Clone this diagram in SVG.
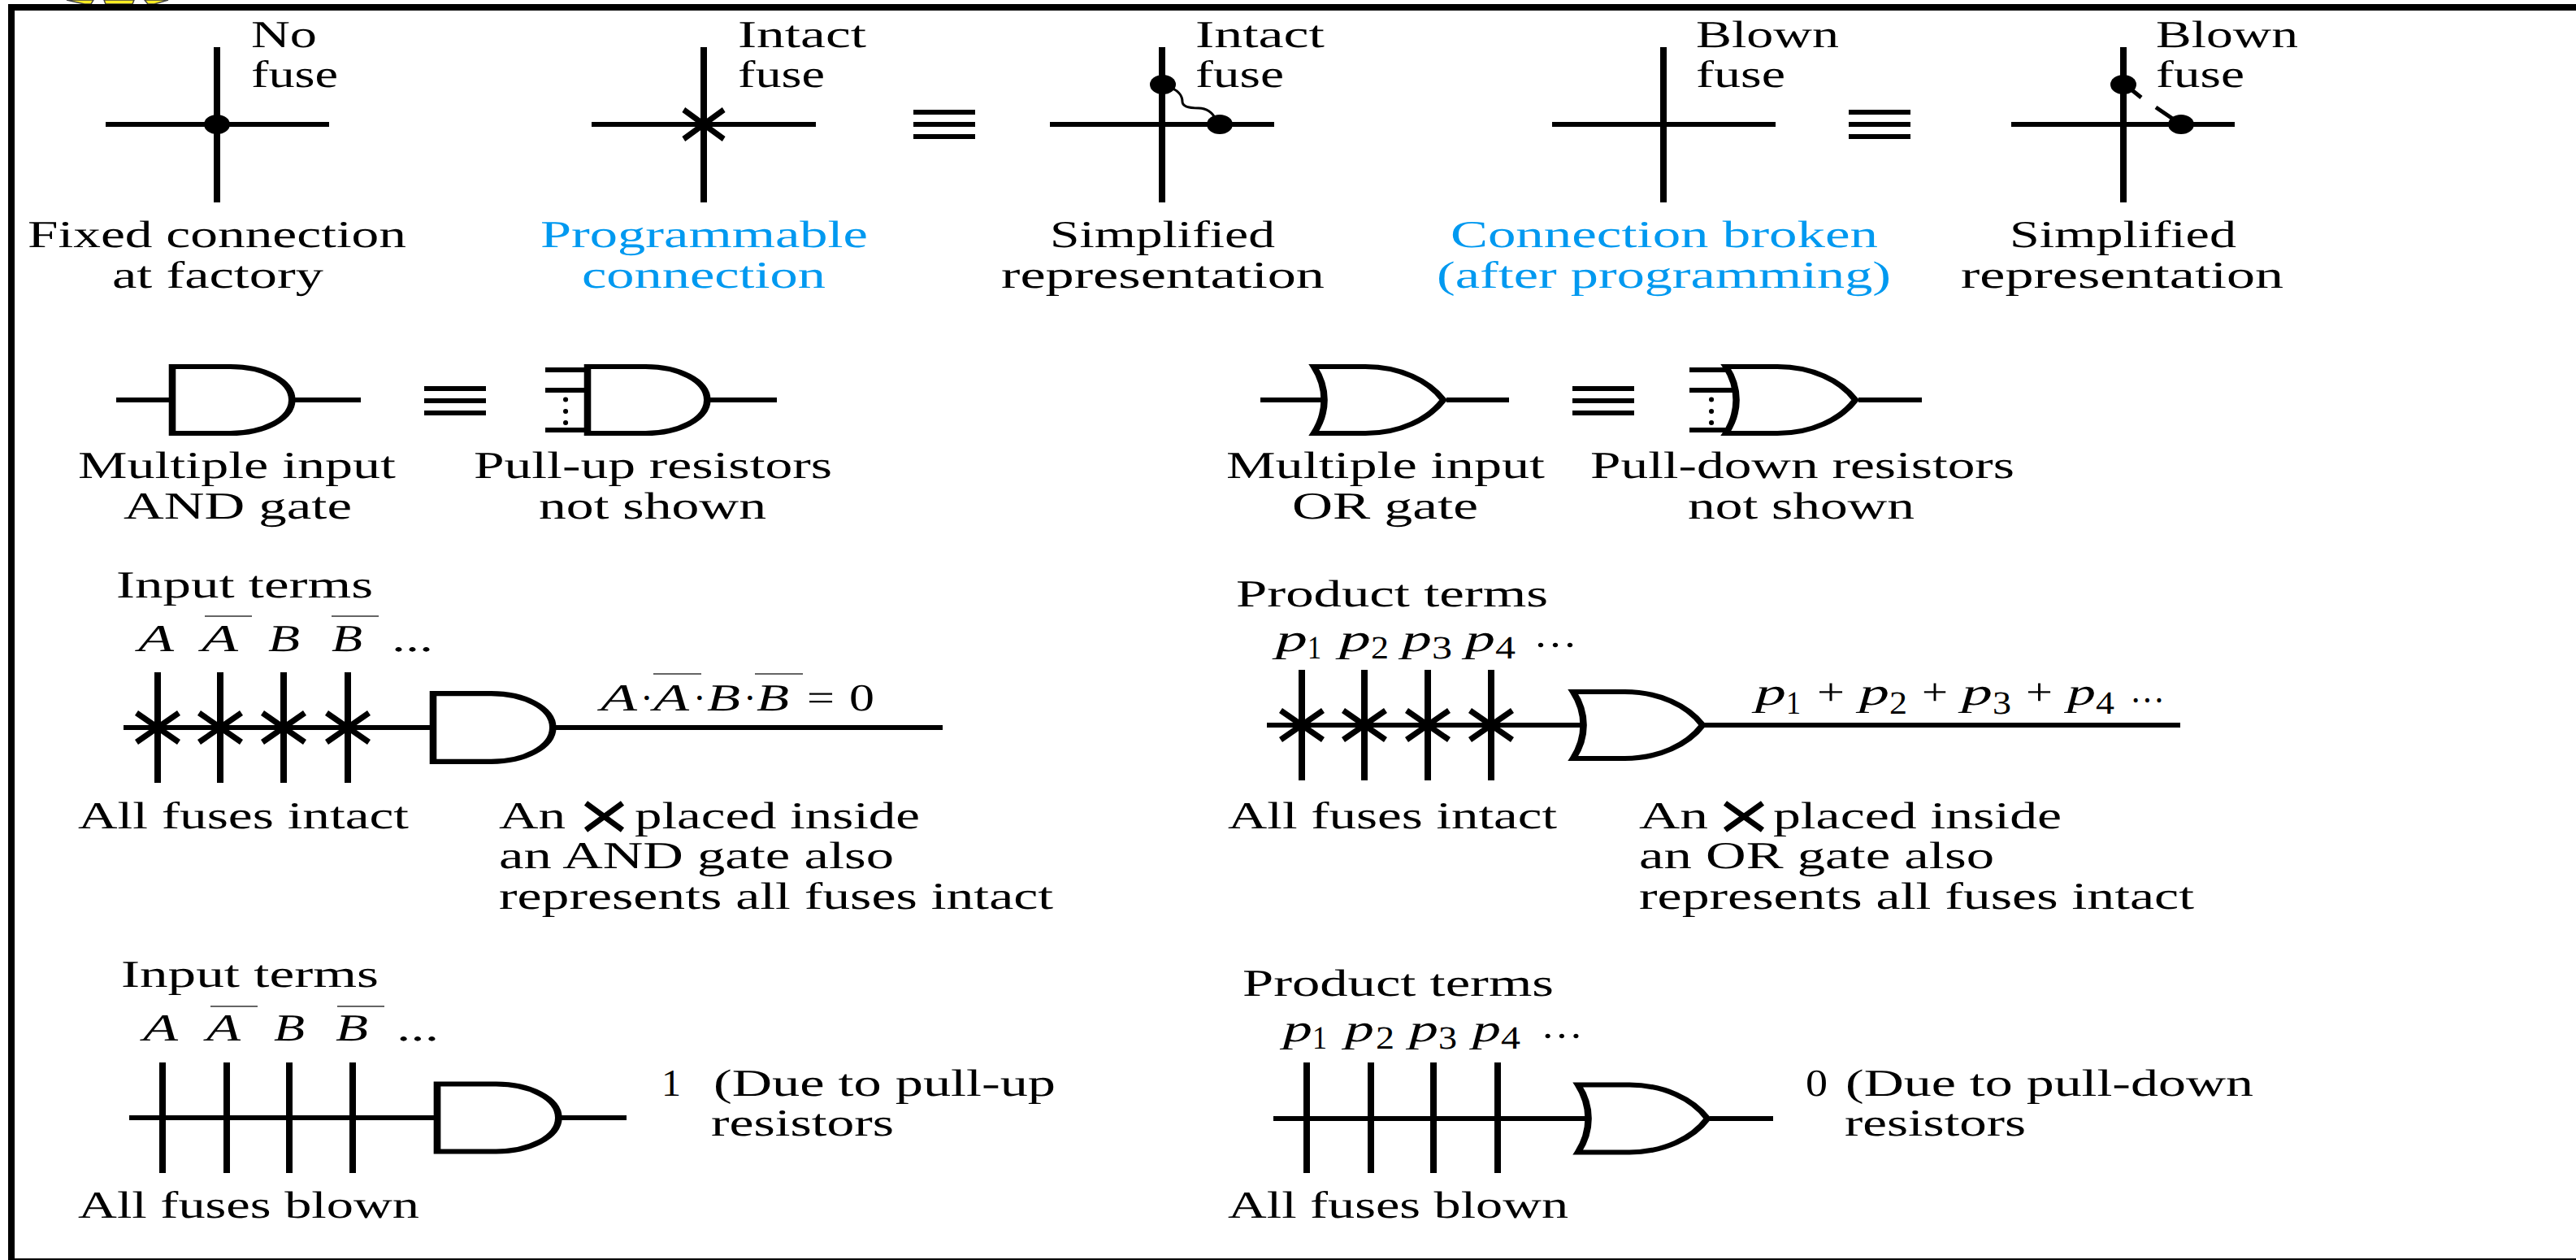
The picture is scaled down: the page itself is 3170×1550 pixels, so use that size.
<svg xmlns="http://www.w3.org/2000/svg" width="3170" height="1550" viewBox="0 0 3170 1550" font-family="'Liberation Serif','Times New Roman',serif" text-rendering="geometricPrecision">
<style>
text{font-family:"Liberation Serif","Times New Roman",serif;font-size:47px;fill:#000}
.i{font-style:italic}
.s{font-size:40px}
.b{fill:#0099f0}
.h{stroke:#000;stroke-width:6;fill:none}
.v{stroke:#000;stroke-width:8;fill:none}
.x{stroke:#000;stroke-width:7;fill:none}
.o{stroke:#333;stroke-width:1.6;fill:none}
.g{stroke:#000;stroke-width:6;fill:#fff}
</style>
<defs>
<path id="and" d="M0,-41H50C78,-41 103,-24 103,0C103,24 78,41 50,41H0Z"/>
<path id="or" d="M-10,-41H35C65,-41 90,-24 103,0C90,24 65,41 35,41H-10C2,15 2,-15 -10,-41Z"/>
<g id="fx"><path d="M-26,-18L26,18M-26,18L26,-18"/></g>
<g id="eq"><path d="M0,-15H76M0,0H76M0,15H76"/></g>
</defs>
<rect width="3170" height="1550" fill="#fff"/>
<g id="frame">
<path d="M82,0L104,5H112L115,0ZM128,0L130,5H163L165,0ZM178,0L182,5H190L207,0Z" fill="#ffee22" stroke="#444" stroke-width="1.5"/>
<rect x="10" y="5" width="3160" height="8"/>
<rect x="10" y="5" width="8" height="1545"/>
<rect x="10" y="1548" width="3160" height="2"/>
</g>
<g id="connectors">
<g id="wires-fuses">
<path class="v" d="M267,58V249M866,58V249M1430,58V249M2047,58V249M2613,58V249"/>
<path class="h" d="M130,153H405M728,153H1004M1292,153H1568M1910,153H2185M2475,153H2750"/>
<use href="#eq" class="h" transform="translate(1124,153)"/>
<use href="#eq" class="h" transform="translate(2275,153)"/>
<path class="o" style="stroke:#000;stroke-width:3" d="M1435,106C1450,110 1455,118 1455,125S1465,133 1475,133S1492,138 1497,148"/>
<path class="x" style="stroke-width:5" d="M2615,104L2635,120M2653,132L2675,147"/>
<use href="#fx" class="x" transform="translate(866,153) scale(.95,1)"/>
</g>
<g id="wires-and">
<path class="h" d="M143,492H212M362,492H444M873,492H956M671,455H723M671,480H723M671,529H723"/>
<use href="#eq" class="h" transform="translate(522,493)"/>
<path d="M696,491.5h.1M696,506h.1M696,520h.1" stroke="#000" stroke-width="6" stroke-linecap="round"/>
<path class="h" d="M152,895H533M683,895H1160"/>
<path class="v" d="M194,827V963M271,827V963M349,827V963M428,827V963"/>
<use href="#fx" class="x" transform="translate(194,895)"/>
<use href="#fx" class="x" transform="translate(271,895)"/>
<use href="#fx" class="x" transform="translate(349,895)"/>
<use href="#fx" class="x" transform="translate(428,895)"/>
<path class="h" d="M159,1375H538M690,1375H771"/>
<path class="v" d="M200,1307V1443M279,1307V1443M356,1307V1443M434,1307V1443"/>
</g>
<g id="wires-or">
<path class="h" d="M1551,492H1633M1780,492H1857M2287,492H2365M2079,455H2130M2079,480H2138M2079,529H2130"/>
<use href="#eq" class="h" transform="translate(1935,493)"/>
<path d="M2106,491.5h.1M2106,506h.1M2106,520h.1" stroke="#000" stroke-width="6" stroke-linecap="round"/>
<path class="h" d="M1559,892H1950M2097,892H2683"/>
<path class="v" d="M1602,824V960M1679,824V960M1757,824V960M1835,824V960"/>
<use href="#fx" class="x" transform="translate(1602,892)"/>
<use href="#fx" class="x" transform="translate(1679,892)"/>
<use href="#fx" class="x" transform="translate(1757,892)"/>
<use href="#fx" class="x" transform="translate(1835,892)"/>
<path class="h" d="M1567,1376H1956M2104,1376H2182"/>
<path class="v" d="M1608,1307V1443M1687,1307V1443M1764,1307V1443M1843,1307V1443"/>
</g>
</g>
<g id="fuse-no">
<ellipse cx="267" cy="153" rx="16" ry="12"/>
<text x="309" y="58" textLength="81" lengthAdjust="spacingAndGlyphs">No</text>
<text x="309" y="107" textLength="107" lengthAdjust="spacingAndGlyphs">fuse</text>
<text x="34" y="304" textLength="466" lengthAdjust="spacingAndGlyphs">Fixed connection</text>
<text x="138" y="354" textLength="260" lengthAdjust="spacingAndGlyphs">at factory</text>
</g>
<g id="fuse-intact">
<text x="908" y="58" textLength="158" lengthAdjust="spacingAndGlyphs">Intact</text>
<text x="908" y="107" textLength="107" lengthAdjust="spacingAndGlyphs">fuse</text>
<text class="b" x="665" y="304" textLength="403" lengthAdjust="spacingAndGlyphs">Programmable</text>
<text class="b" x="716" y="354" textLength="300" lengthAdjust="spacingAndGlyphs">connection</text>
</g>
<g id="fuse-intact-simplified">
<ellipse cx="1431" cy="104" rx="16" ry="12"/>
<ellipse cx="1501" cy="153" rx="16" ry="12"/>
<text x="1471" y="58" textLength="159" lengthAdjust="spacingAndGlyphs">Intact</text>
<text x="1471" y="107" textLength="109" lengthAdjust="spacingAndGlyphs">fuse</text>
<text x="1292" y="304" textLength="277" lengthAdjust="spacingAndGlyphs">Simplified</text>
<text x="1232" y="354" textLength="398" lengthAdjust="spacingAndGlyphs">representation</text>
</g>
<g id="fuse-blown">
<text x="2087" y="58" textLength="176" lengthAdjust="spacingAndGlyphs">Blown</text>
<text x="2087" y="107" textLength="110" lengthAdjust="spacingAndGlyphs">fuse</text>
<text class="b" x="1785" y="304" textLength="526" lengthAdjust="spacingAndGlyphs">Connection broken</text>
<text class="b" x="1768" y="354" textLength="559" lengthAdjust="spacingAndGlyphs">(after programming)</text>
</g>
<g id="fuse-blown-simplified">
<ellipse cx="2613" cy="104" rx="16" ry="12"/>
<ellipse cx="2684" cy="153" rx="16" ry="12"/>
<text x="2653" y="58" textLength="175" lengthAdjust="spacingAndGlyphs">Blown</text>
<text x="2653" y="107" textLength="109" lengthAdjust="spacingAndGlyphs">fuse</text>
<text x="2473" y="304" textLength="279" lengthAdjust="spacingAndGlyphs">Simplified</text>
<text x="2413" y="354" textLength="397" lengthAdjust="spacingAndGlyphs">representation</text>
</g>
<g id="and-multi">
<use href="#and" class="g" transform="translate(212,492) scale(1.43,1)"/>
<text x="96" y="588" textLength="391" lengthAdjust="spacingAndGlyphs">Multiple input</text>
<text x="152" y="638" textLength="281" lengthAdjust="spacingAndGlyphs">AND gate</text>
</g>
<g id="and-pullup">
<use href="#and" class="g" transform="translate(723,492) scale(1.43,1)"/>
<text x="583" y="588" textLength="441" lengthAdjust="spacingAndGlyphs">Pull-up resistors</text>
<text x="663" y="638" textLength="280" lengthAdjust="spacingAndGlyphs">not shown</text>
</g>
<g id="or-multi">
<use href="#or" class="g" transform="translate(1631,492) scale(1.41,1)"/>
<text x="1509" y="588" textLength="392" lengthAdjust="spacingAndGlyphs">Multiple input</text>
<text x="1590" y="638" textLength="229" lengthAdjust="spacingAndGlyphs">OR gate</text>
</g>
<g id="or-pulldown">
<use href="#or" class="g" transform="translate(2138,492) scale(1.41,1)"/>
<text x="1957" y="588" textLength="522" lengthAdjust="spacingAndGlyphs">Pull-down resistors</text>
<text x="2077" y="638" textLength="279" lengthAdjust="spacingAndGlyphs">not shown</text>
</g>
<g id="and-intact">
<use href="#and" class="g" transform="translate(533,895) scale(1.43,1.02)"/>
<text x="143" y="735" textLength="316" lengthAdjust="spacingAndGlyphs">Input terms</text>
<text class="i" x="170" y="801" textLength="44" lengthAdjust="spacingAndGlyphs">A</text>
<text class="i" x="248" y="801" textLength="45" lengthAdjust="spacingAndGlyphs">A</text>
<text class="i" x="330" y="801" textLength="39" lengthAdjust="spacingAndGlyphs">B</text>
<text class="i" x="408" y="801" textLength="38" lengthAdjust="spacingAndGlyphs">B</text>
<text x="482" y="801" textLength="51" lengthAdjust="spacingAndGlyphs">...</text>
<path class="o" d="M252,758H310M408,758H466M804,829H863M929,829H988"/>
<text class="i" x="739" y="874" textLength="45" lengthAdjust="spacingAndGlyphs">A</text>
<text x="788" y="874">·</text>
<text class="i" x="804" y="874" textLength="44" lengthAdjust="spacingAndGlyphs">A</text>
<text x="853" y="874">·</text>
<text class="i" x="870" y="874" textLength="41" lengthAdjust="spacingAndGlyphs">B</text>
<text x="915" y="874">·</text>
<text class="i" x="931" y="874" textLength="40" lengthAdjust="spacingAndGlyphs">B</text>
<text x="993" y="874" textLength="34" lengthAdjust="spacingAndGlyphs">=</text>
<text x="1045" y="874" textLength="31" lengthAdjust="spacingAndGlyphs">0</text>
<text x="96" y="1019" textLength="407" lengthAdjust="spacingAndGlyphs">All fuses intact</text>
<text x="614" y="1019" textLength="82" lengthAdjust="spacingAndGlyphs">An</text>
<path class="x" d="M721,988L766,1021M721,1021L766,988"/>
<text x="781" y="1019" textLength="351" lengthAdjust="spacingAndGlyphs">placed inside</text>
<text x="614" y="1068" textLength="486" lengthAdjust="spacingAndGlyphs">an AND gate also</text>
<text x="614" y="1118" textLength="682" lengthAdjust="spacingAndGlyphs">represents all fuses intact</text>
</g>
<g id="or-intact">
<use href="#or" class="g" transform="translate(1950,892) scale(1.41,1)"/>
<text x="1521" y="746" textLength="384" lengthAdjust="spacingAndGlyphs">Product terms</text>
<text class="i" x="1570" y="801" textLength="39" lengthAdjust="spacingAndGlyphs">p</text><text class="s" x="1609" y="810" textLength="17" lengthAdjust="spacingAndGlyphs">1</text>
<text class="i" x="1648" y="801" textLength="39" lengthAdjust="spacingAndGlyphs">p</text><text class="s" x="1687" y="810" textLength="22" lengthAdjust="spacingAndGlyphs">2</text>
<text class="i" x="1725" y="801" textLength="37" lengthAdjust="spacingAndGlyphs">p</text><text class="s" x="1762" y="810" textLength="25" lengthAdjust="spacingAndGlyphs">3</text>
<text class="i" x="1803" y="801" textLength="37" lengthAdjust="spacingAndGlyphs">p</text><text class="s" x="1840" y="810" textLength="25" lengthAdjust="spacingAndGlyphs">4</text>
<text x="1887" y="809" textLength="54" lengthAdjust="spacingAndGlyphs">···</text>
<text class="i" x="2160" y="867" textLength="38" lengthAdjust="spacingAndGlyphs">p</text><text class="s" x="2198" y="878" textLength="18" lengthAdjust="spacingAndGlyphs">1</text>
<text x="2236" y="867" textLength="34" lengthAdjust="spacingAndGlyphs">+</text>
<text class="i" x="2288" y="867" textLength="37" lengthAdjust="spacingAndGlyphs">p</text><text class="s" x="2325" y="878" textLength="22" lengthAdjust="spacingAndGlyphs">2</text>
<text x="2365" y="867" textLength="32" lengthAdjust="spacingAndGlyphs">+</text>
<text class="i" x="2414" y="867" textLength="38" lengthAdjust="spacingAndGlyphs">p</text><text class="s" x="2452" y="878" textLength="23" lengthAdjust="spacingAndGlyphs">3</text>
<text x="2493" y="867" textLength="33" lengthAdjust="spacingAndGlyphs">+</text>
<text class="i" x="2544" y="867" textLength="35" lengthAdjust="spacingAndGlyphs">p</text><text class="s" x="2579" y="878" textLength="23" lengthAdjust="spacingAndGlyphs">4</text>
<text x="2621" y="877" textLength="43" lengthAdjust="spacingAndGlyphs">···</text>
<text x="1511" y="1019" textLength="405" lengthAdjust="spacingAndGlyphs">All fuses intact</text>
<text x="2017" y="1019" textLength="85" lengthAdjust="spacingAndGlyphs">An</text>
<path class="x" d="M2123,988L2169,1021M2123,1021L2169,988"/>
<text x="2182" y="1019" textLength="355" lengthAdjust="spacingAndGlyphs">placed inside</text>
<text x="2017" y="1068" textLength="437" lengthAdjust="spacingAndGlyphs">an OR gate also</text>
<text x="2017" y="1118" textLength="683" lengthAdjust="spacingAndGlyphs">represents all fuses intact</text>
</g>
<g id="and-blown">
<use href="#and" class="g" transform="translate(538,1375) scale(1.45,1.01)"/>
<text x="149" y="1214" textLength="317" lengthAdjust="spacingAndGlyphs">Input terms</text>
<text class="i" x="176" y="1280" textLength="43" lengthAdjust="spacingAndGlyphs">A</text>
<text class="i" x="254" y="1280" textLength="42" lengthAdjust="spacingAndGlyphs">A</text>
<text class="i" x="337" y="1280" textLength="38" lengthAdjust="spacingAndGlyphs">B</text>
<text class="i" x="413" y="1280" textLength="40" lengthAdjust="spacingAndGlyphs">B</text>
<text x="488" y="1280" textLength="52" lengthAdjust="spacingAndGlyphs">...</text>
<path class="o" d="M259,1238H317M415,1238H473"/>
<text x="814" y="1348" textLength="24" lengthAdjust="spacingAndGlyphs">1</text>
<text x="878" y="1348" textLength="421" lengthAdjust="spacingAndGlyphs">(Due to pull-up</text>
<text x="875" y="1397" textLength="225" lengthAdjust="spacingAndGlyphs">resistors</text>
<text x="96" y="1498" textLength="420" lengthAdjust="spacingAndGlyphs">All fuses blown</text>
</g>
<g id="or-blown">
<use href="#or" class="g" transform="translate(1956,1376) scale(1.41,1.01)"/>
<text x="1529" y="1225" textLength="383" lengthAdjust="spacingAndGlyphs">Product terms</text>
<text class="i" x="1579" y="1281" textLength="36" lengthAdjust="spacingAndGlyphs">p</text><text class="s" x="1615" y="1290" textLength="18" lengthAdjust="spacingAndGlyphs">1</text>
<text class="i" x="1655" y="1281" textLength="36" lengthAdjust="spacingAndGlyphs">p</text><text class="s" x="1693" y="1290" textLength="23" lengthAdjust="spacingAndGlyphs">2</text>
<text class="i" x="1734" y="1281" textLength="36" lengthAdjust="spacingAndGlyphs">p</text><text class="s" x="1770" y="1290" textLength="23" lengthAdjust="spacingAndGlyphs">3</text>
<text class="i" x="1812" y="1281" textLength="35" lengthAdjust="spacingAndGlyphs">p</text><text class="s" x="1847" y="1290" textLength="24" lengthAdjust="spacingAndGlyphs">4</text>
<text x="1896" y="1290" textLength="52" lengthAdjust="spacingAndGlyphs">···</text>
<text x="2222" y="1348" textLength="27" lengthAdjust="spacingAndGlyphs">0</text>
<text x="2271" y="1348" textLength="502" lengthAdjust="spacingAndGlyphs">(Due to pull-down</text>
<text x="2270" y="1397" textLength="223" lengthAdjust="spacingAndGlyphs">resistors</text>
<text x="1511" y="1498" textLength="419" lengthAdjust="spacingAndGlyphs">All fuses blown</text>
</g>
</svg>
